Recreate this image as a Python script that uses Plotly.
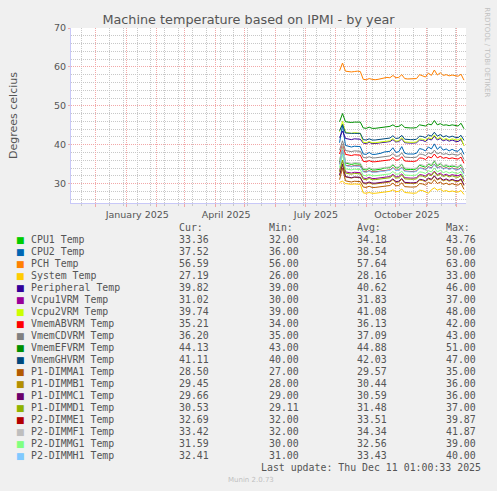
import pandas as pd
import plotly.graph_objects as go

# one reading every 3 days from the first day of data
days = pd.date_range("2025-08-05", periods=43, freq="3D")

names = ["CPU1 Temp", "CPU2 Temp", "PCH Temp", "System Temp", "Peripheral Temp",
         "Vcpu1VRM Temp", "Vcpu2VRM Temp", "VmemABVRM Temp", "VmemCDVRM Temp",
         "VmemEFVRM Temp", "VmemGHVRM Temp", "P1-DIMMA1 Temp", "P1-DIMMB1 Temp",
         "P1-DIMMC1 Temp", "P1-DIMMD1 Temp", "P2-DIMME1 Temp", "P2-DIMMF1 Temp",
         "P2-DIMMG1 Temp", "P2-DIMMH1 Temp"]
colours = ["#00CC00", "#0066B3", "#FF8000", "#FFCC00", "#330099", "#990099", "#CCFF00",
           "#FF0000", "#808080", "#008F00", "#00487D", "#B35A00", "#B38F00", "#6B006B",
           "#8FB300", "#B30000", "#BEBEBE", "#80FF80", "#80C9FF"]
cur = [33.36, 37.52, 56.59, 27.19, 39.82, 31.02, 39.74, 35.21, 36.20, 44.13, 41.11,
       28.50, 29.45, 29.66, 30.53, 32.69, 33.42, 31.59, 32.41]
mins = [32.00, 36.00, 56.00, 26.00, 39.00, 30.00, 39.00, 34.00, 35.00, 43.00, 40.00,
        27.00, 28.00, 29.00, 29.11, 32.00, 32.00, 30.00, 31.00]
avgs = [34.18, 38.54, 57.64, 28.16, 40.62, 31.83, 41.08, 36.13, 37.09, 44.88, 42.03,
        29.57, 30.44, 30.59, 31.48, 33.51, 34.34, 32.56, 33.43]
maxs = [43.76, 50.00, 63.00, 33.00, 46.00, 37.00, 48.00, 42.00, 43.00, 51.00, 47.00,
        35.00, 36.00, 36.00, 37.00, 39.87, 41.87, 39.00, 40.00]

cpu1 = [35.5, 40.0, 35.3, 35.0, 34.9, 35.1, 35.0, 35.0,
        33.6, 33.5, 33.9, 33.5, 33.5, 33.6, 33.7, 34.0, 34.0, 34.1, 34.8, 34.0, 34.1, 35.0, 33.7, 33.6, 33.6,
        33.6, 33.8, 34.7, 34.5, 34.2, 35.0, 34.6, 35.8, 34.5, 35.1, 34.4, 34.6, 34.3, 34.5, 34.3, 34.2, 34.8,
        33.4]
cpu2 = [40.5, 45.0, 39.8, 39.5, 39.4, 39.6, 39.5, 39.5,
        37.6, 37.5, 38.0, 37.5, 37.5, 37.6, 37.8, 38.1, 38.2, 38.3, 39.2, 38.0, 38.2, 39.5, 37.8, 37.6, 37.6,
        37.6, 37.8, 39.0, 38.8, 38.4, 39.4, 38.9, 40.2, 38.8, 39.5, 38.6, 38.9, 38.4, 38.8, 38.4, 38.3, 39.1,
        37.5]
pch = [59.0, 61.0, 58.9, 58.8, 58.7, 58.8, 58.9, 58.8,
       56.8, 56.7, 57.0, 56.8, 56.7, 56.8, 57.0, 57.2, 57.3, 57.2, 57.8, 57.2, 57.3, 58.0, 57.0, 56.9, 56.9,
       56.9, 57.0, 58.0, 57.6, 57.4, 58.4, 57.8, 59.2, 57.9, 58.5, 57.8, 58.0, 57.7, 57.9, 57.7, 57.6, 58.1,
       56.6]
system = [30.3, 30.6, 30.0, 29.9, 29.8, 29.9, 29.8, 29.8,
          27.6, 27.5, 27.7, 27.5, 27.5, 27.6, 27.7, 27.9, 27.9, 28.0, 28.4, 27.9, 28.0, 28.6, 27.7, 27.6, 27.5,
          27.5, 27.6, 28.3, 28.2, 27.9, 27.5, 28.4, 28.9, 28.3, 28.6, 28.0, 28.2, 27.9, 28.1, 27.9, 27.8, 28.2,
          27.2]
peripheral = [41.8, 43.5, 41.6, 41.4, 41.3, 41.5, 41.4, 41.4,
              40.4, 40.3, 40.6, 40.3, 40.3, 40.4, 40.5, 40.7, 40.7, 40.8, 41.3, 40.7, 40.8, 41.5, 40.5, 40.4,
              40.4, 40.4, 40.5, 41.2, 41.1, 40.8, 41.5, 41.2, 42.2, 41.2, 41.6, 41.0, 41.3, 40.9, 41.2, 40.9,
              40.8, 41.3, 39.8]
vcpu1 = [33.2, 36.0, 33.0, 32.8, 32.7, 32.9, 32.8, 32.8,
         31.4, 31.3, 31.6, 31.3, 31.3, 31.4, 31.5, 31.7, 31.7, 31.8, 32.4, 31.7, 31.8, 32.5, 31.5, 31.4, 31.4,
         31.4, 31.5, 32.3, 32.2, 31.9, 32.6, 32.3, 33.2, 32.3, 32.7, 32.1, 32.4, 32.0, 32.3, 32.1, 32.0, 32.4,
         31.0]
vcpu2 = [43.3, 46.0, 43.2, 43.0, 42.9, 43.1, 43.0, 42.9,
         40.6, 40.5, 40.8, 40.5, 40.5, 40.6, 40.7, 40.9, 40.9, 41.0, 41.6, 40.9, 41.0, 41.8, 40.7, 40.6, 40.6,
         40.6, 40.7, 41.5, 41.4, 41.1, 41.8, 41.5, 42.5, 41.5, 41.9, 41.3, 41.6, 41.2, 41.5, 41.3, 41.2, 41.7,
         39.7]
vmem_ab = [37.6, 40.0, 37.5, 37.3, 37.2, 37.4, 37.3, 37.3,
           35.7, 35.6, 35.9, 35.6, 35.6, 35.7, 35.8, 36.0, 36.0, 36.1, 36.7, 36.0, 36.1, 36.9, 35.8, 35.7, 35.7,
           35.7, 35.8, 36.6, 36.5, 36.2, 36.9, 36.6, 37.6, 36.6, 37.0, 36.5, 36.7, 36.4, 36.6, 36.4, 36.3, 36.8,
           35.2]
vmem_cd = [38.6, 41.0, 38.5, 38.3, 38.2, 38.4, 38.3, 38.3,
           36.7, 36.6, 36.9, 36.6, 36.6, 36.7, 36.8, 37.0, 37.0, 37.1, 37.7, 37.0, 37.1, 37.9, 36.8, 36.7, 36.7,
           36.7, 36.8, 37.6, 37.5, 37.2, 37.9, 37.6, 38.6, 37.6, 38.0, 37.5, 37.7, 37.4, 37.6, 37.4, 37.3, 37.8,
           36.2]
vmem_ef = [45.9, 48.0, 45.9, 45.8, 45.7, 45.8, 45.8, 45.8,
           44.3, 44.2, 44.5, 44.2, 44.2, 44.3, 44.4, 44.6, 44.6, 44.7, 45.1, 44.6, 44.7, 45.2, 44.4, 44.3, 44.3,
           44.3, 44.4, 45.1, 45.0, 44.8, 45.3, 45.1, 46.2, 45.1, 45.4, 45.0, 45.1, 44.9, 45.1, 44.9, 44.8, 45.5,
           44.1]
vmem_gh = [43.6, 45.2, 43.0, 42.9, 42.9, 42.9, 42.9, 42.9,
           41.3, 41.2, 41.5, 41.2, 41.2, 41.3, 41.4, 41.6, 41.6, 41.7, 42.3, 41.6, 41.7, 42.4, 41.4, 41.3, 41.3,
           41.3, 41.4, 42.2, 42.1, 41.8, 42.5, 42.2, 43.2, 42.2, 42.6, 42.0, 42.3, 41.9, 42.2, 41.9, 41.8, 42.4,
           41.1]
dimm_a1 = [31.0, 34.0, 30.7, 30.5, 30.4, 30.6, 30.5, 30.5,
           29.1, 29.0, 29.3, 29.0, 29.0, 29.1, 29.2, 29.4, 29.4, 29.5, 30.1, 29.4, 29.5, 30.2, 29.2, 29.1, 29.1,
           29.1, 29.2, 30.0, 29.9, 29.6, 30.3, 30.0, 31.0, 30.0, 30.4, 29.8, 30.1, 29.7, 30.0, 29.7, 29.6, 30.1,
           28.5]
dimm_b1 = [32.0, 35.0, 31.7, 31.5, 31.4, 31.6, 31.5, 31.5,
           30.0, 29.9, 30.2, 29.9, 29.9, 30.0, 30.1, 30.3, 30.3, 30.4, 31.0, 30.3, 30.4, 31.1, 30.1, 30.0, 30.0,
           30.0, 30.1, 30.9, 30.8, 30.5, 31.2, 30.9, 31.9, 30.9, 31.3, 30.7, 31.0, 30.6, 30.9, 30.6, 30.5, 31.0,
           29.45]
dimm_c1 = [32.2, 35.0, 31.8, 31.6, 31.5, 31.7, 31.6, 31.6,
           30.2, 30.1, 30.4, 30.1, 30.1, 30.2, 30.3, 30.5, 30.5, 30.6, 31.2, 30.5, 30.6, 31.3, 30.3, 30.2, 30.2,
           30.2, 30.3, 31.1, 31.0, 30.7, 31.4, 31.1, 32.0, 31.1, 31.5, 30.9, 31.2, 30.8, 31.1, 30.8, 30.7, 31.2,
           29.66]
dimm_d1 = [33.0, 36.0, 32.7, 32.5, 32.4, 32.6, 32.5, 32.5,
           31.1, 31.0, 31.3, 31.0, 31.0, 31.1, 31.2, 31.4, 31.4, 31.5, 32.1, 31.4, 31.5, 32.2, 31.2, 31.1, 31.1,
           31.1, 31.2, 32.0, 31.9, 31.6, 32.3, 32.0, 33.0, 32.0, 32.4, 31.8, 32.1, 31.7, 32.0, 31.7, 31.6, 32.1,
           30.53]
dimm_e1 = [35.0, 38.5, 34.7, 34.5, 34.4, 34.6, 34.5, 34.5,
           33.1, 33.0, 33.3, 33.0, 33.0, 33.1, 33.2, 33.4, 33.4, 33.5, 34.1, 33.4, 33.5, 34.2, 33.2, 33.1, 33.1,
           33.1, 33.2, 34.0, 33.9, 33.6, 34.3, 34.0, 35.0, 34.0, 34.4, 33.8, 34.1, 33.7, 34.0, 33.7, 33.6, 34.1,
           32.69]
dimm_f1 = [35.9, 40.0, 35.5, 35.3, 35.2, 35.4, 35.3, 35.3,
           33.9, 33.8, 34.1, 33.8, 33.8, 33.9, 34.0, 34.2, 34.2, 34.3, 35.0, 34.2, 34.3, 35.1, 34.0, 33.9, 33.9,
           33.9, 34.0, 34.9, 34.8, 34.4, 35.2, 34.9, 36.0, 34.8, 35.3, 34.6, 34.9, 34.5, 34.8, 34.5, 34.4, 35.0,
           33.42]
dimm_g1 = [34.1, 37.5, 33.8, 33.6, 33.5, 33.7, 33.6, 33.6,
           32.1, 32.0, 32.3, 32.0, 32.0, 32.1, 32.2, 32.4, 32.4, 32.5, 33.1, 32.4, 32.5, 33.2, 32.2, 32.1, 32.1,
           32.1, 32.2, 33.0, 32.9, 32.6, 33.3, 33.0, 34.0, 33.0, 33.4, 32.8, 33.1, 32.7, 33.0, 32.7, 32.6, 33.1,
           31.59]
dimm_h1 = [34.9, 38.5, 34.6, 34.4, 34.3, 34.5, 34.4, 34.4,
           33.0, 32.9, 33.2, 32.9, 32.9, 33.0, 33.1, 33.3, 33.3, 33.4, 34.0, 33.3, 33.4, 34.1, 33.1, 33.0, 33.0,
           33.0, 33.1, 33.9, 33.8, 33.5, 34.2, 33.9, 34.9, 33.9, 34.3, 33.7, 34.0, 33.6, 33.9, 33.6, 33.5, 34.0,
           32.41]

series = [cpu1, cpu2, pch, system, peripheral, vcpu1, vcpu2, vmem_ab, vmem_cd, vmem_ef,
          vmem_gh, dimm_a1, dimm_b1, dimm_c1, dimm_d1, dimm_e1, dimm_f1, dimm_g1, dimm_h1]

# month starts carry the red grid; every third month gets a label (shifted to mid month)
month_starts = ["2024-12-01", "2025-01-01", "2025-02-01", "2025-03-01", "2025-04-01",
                "2025-05-01", "2025-06-01", "2025-07-01", "2025-08-01", "2025-09-01",
                "2025-10-01", "2025-11-01", "2025-12-01"]
month_text = ["", "January 2025", "", "", "April 2025", "", "", "July 2025", "", "",
              "October 2025", "", ""]
x_start, x_end = "2024-11-06 01:00", "2025-12-11 01:00"

# pixel layout of the munin graph
W, H = 497, 491
L, T, PW, PH = 66, 28, 400, 175
GREY = "#555555"
MGRID = "#F2A8A8"
GRID = "#C8C8C8"
AXIS = "#C8C8F8"


def px(x):
    return (x - L) / PW


def py(y):
    return (T + PH - y) / PH


fig = go.Figure()
for name, colour, vals in zip(names, colours, series):
    fig.add_trace(go.Scatter(x=days, y=vals, name=name, mode="lines",
                             line=dict(color=colour, width=1), showlegend=False))

fig.update_layout(
    width=W, height=H,
    margin=dict(l=L, r=W - L - PW, t=T, b=H - T - PH),
    paper_bgcolor="#F0F0F0", plot_bgcolor="white",
    font=dict(family="DejaVu Sans", color=GREY, size=9.5),
    title=dict(text="Machine temperature based on IPMI - by year", x=0.5, xanchor="center",
               y=1 - 19.5 / H, yanchor="middle", font=dict(size=12.8, color=GREY)),
    showlegend=False,
    xaxis=dict(type="date", range=[x_start, x_end], tickmode="array", tickvals=month_starts,
               ticktext=month_text, ticklabelshift=11, showgrid=True, gridcolor=MGRID,
               griddash="1px,1px", gridwidth=1, ticks="outside", ticklen=3, tickcolor=MGRID,
               zeroline=False, showline=True, linecolor=AXIS, linewidth=1,
               minor=dict(tickmode="linear", tick0="2024-11-17", dtick=14 * 86400000,
                          showgrid=True, gridcolor=GRID, griddash="1px,1px", gridwidth=1,
                          ticks="outside", ticklen=2, tickcolor=GRID)),
    yaxis=dict(range=[25, 70], tick0=0, dtick=10, showgrid=True, gridcolor=MGRID,
               griddash="1px,1px", zeroline=False, showline=True, linecolor=AXIS,
               ticks="outside", ticklen=2, tickcolor=MGRID,
               title=dict(text="Degrees celcius", font=dict(size=11, color=GREY), standoff=34),
               minor=dict(tick0=0, dtick=2, showgrid=True, gridcolor=GRID, griddash="1px,1px")),
)

MONO = dict(family="DejaVu Sans Mono", size=9.9, color=GREY)
notes = []
col_x = [173.5, 264, 354, 444]
for cx, head in zip(col_x, ["Cur:", "Min:", "Avg:", "Max:"]):
    notes.append(dict(x=px(cx), y=py(227.3), text=head))
for i, name in enumerate(names):
    ry = 239.7 + 12 * i
    notes.append(dict(x=px(8.5), y=py(ry), text="■",
                      font=dict(family="DejaVu Sans", size=9, color=colours[i])))
    notes.append(dict(x=px(23.3), y=py(ry), text=name))
    for cx, v in zip(col_x, [cur[i], mins[i], avgs[i], maxs[i]]):
        notes.append(dict(x=px(cx), y=py(ry), text="%.2f" % v))
for n in notes:
    n.update(xref="paper", yref="paper", xanchor="left", yanchor="middle", showarrow=False)
    n.setdefault("font", MONO)
    fig.add_annotation(**n)

fig.add_annotation(x=px(483), y=py(467.3), xref="paper", yref="paper", xanchor="right",
                   yanchor="middle", showarrow=False, font=MONO,
                   text="Last update: Thu Dec 11 01:00:33 2025")
fig.add_annotation(x=px(248), y=py(480.3), xref="paper", yref="paper", xanchor="center",
                   yanchor="middle", showarrow=False, text="Munin 2.0.73",
                   font=dict(family="DejaVu Sans", size=7, color="#C0C0C0"))
fig.add_annotation(x=px(487), y=py(52), xref="paper", yref="paper", xanchor="center",
                   yanchor="middle", showarrow=False, textangle=90, text="RRDTOOL / TOBI OETIKER",
                   font=dict(family="DejaVu Sans", size=7, color="#C0C0C0"))

fig.write_html("out.html", config={"displayModeBar": False},
               post_script="document.body.style.margin='0';")
